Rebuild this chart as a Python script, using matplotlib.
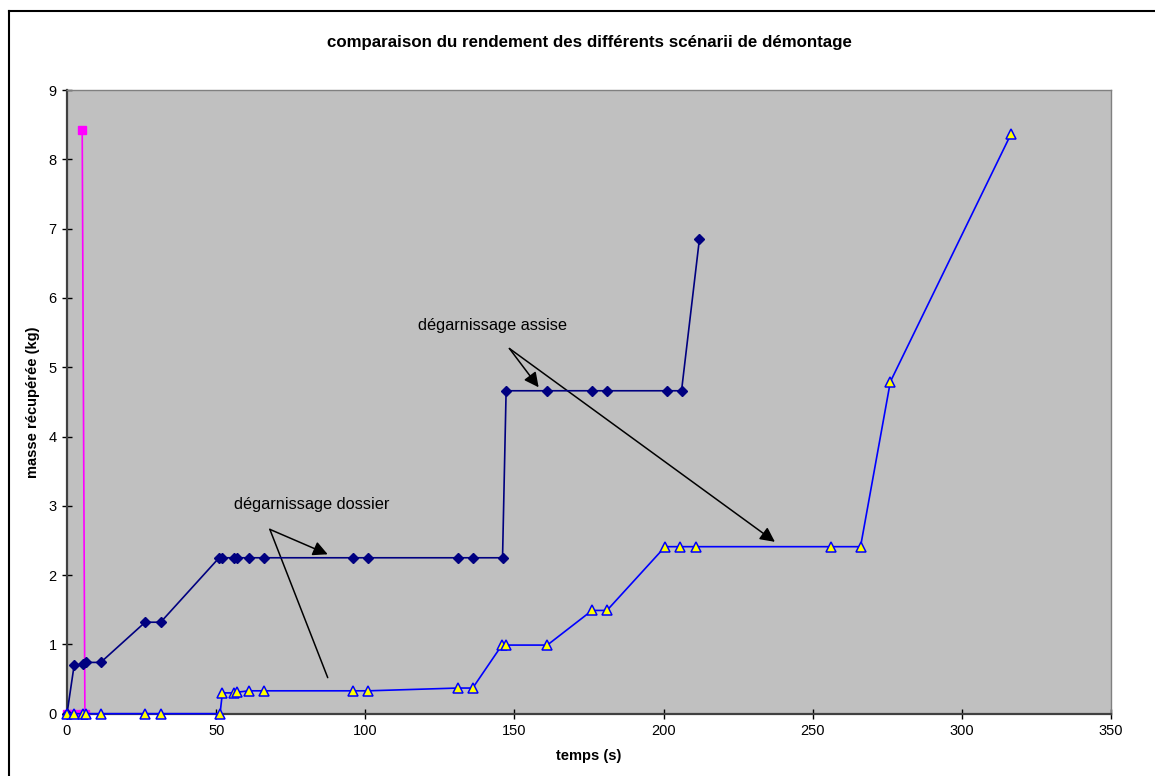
import matplotlib
matplotlib.use('Agg')
import matplotlib.pyplot as plt
from matplotlib.lines import Line2D

plt.rcParams['font.family'] = ['Liberation Sans', 'DejaVu Sans']

# scenario 1 : vertical magenta
t_mag = [0, 2, 5.1, 6, 5.1]
m_mag = [0, 0, 0, 0, 8.43]

# degarnissage dossier (dark blue diamonds)
t_dos = [0, 2.4, 5.3, 6.3, 11.3, 26.2, 31.4, 51, 52, 56, 57, 61, 66, 96, 101,
         131, 136, 146, 147.2, 161, 176, 181, 201, 206, 212]
m_dos = [0, 0.70, 0.71, 0.74, 0.74, 1.32, 1.32, 2.25, 2.25, 2.25, 2.25, 2.25, 2.25, 2.25, 2.25,
         2.25, 2.25, 2.25, 4.66, 4.66, 4.66, 4.66, 4.66, 4.66, 6.85]

# degarnissage assise (blue triangles)
t_ass = [0, 2.4, 5.3, 6.3, 11.3, 26.2, 31.4, 51.3, 52.1, 56, 57, 61, 66, 96, 101,
         131, 136, 145.8, 147.2, 161, 176, 181, 200.5, 205.5, 211, 256, 266, 276, 316.5]
m_ass = [0, 0, 0, 0, 0, 0, 0, 0, 0.30, 0.30, 0.31, 0.33, 0.33, 0.33, 0.33,
         0.37, 0.37, 0.99, 0.99, 0.99, 1.49, 1.49, 2.41, 2.41, 2.41, 2.41, 2.41, 4.79, 8.37]

fig = plt.figure(figsize=(11.55, 7.76), dpi=100)
ax = fig.add_axes([0.058, 0.0803, 0.904, 0.8037])
ax.set_facecolor('#C0C0C0')

ax.plot(t_mag, m_mag, color='#FF00FF', lw=1.2, marker='s', ms=5.8,
        mfc='#FF00FF', mec='#FF00FF', zorder=3, clip_on=False)
ax.plot(t_dos, m_dos, color='#000080', lw=1.2, marker='D', ms=4.8,
        mfc='#000080', mec='#000080', zorder=4, clip_on=False)
ax.plot(t_ass, m_ass, color='#0000FF', lw=1.2, marker='^', ms=6.5,
        mfc='#FFFF00', mec='#0000FF', mew=1.1, zorder=5, clip_on=False)

ax.set_xlim(0, 350)
ax.set_ylim(0, 9)
ax.set_xticks(range(0, 351, 50))
ax.set_yticks(range(0, 10))
ax.tick_params(direction='inout', length=7, width=1, labelsize=10.5, pad=4, colors='black')
for s in ['left', 'bottom']:
    ax.spines[s].set_color('#404040')
    ax.spines[s].set_linewidth(1.6)
for s in ['right', 'top']:
    ax.spines[s].set_color('#808080')
    ax.spines[s].set_linewidth(1.0)

ax.set_title('comparaison du rendement des différents scénarii de démontage',
             fontsize=12.2, fontweight='bold', pad=31)
ax.set_xlabel('temps (s)', fontsize=10.5, fontweight='bold', labelpad=8)
ax.set_ylabel('masse récupérée (kg)', fontsize=10.5, fontweight='bold', labelpad=6)

arrow = dict(arrowstyle='-|>', color='black', lw=1.1, mutation_scale=22, shrinkA=0, shrinkB=0)
line = dict(arrowstyle='-', color='black', lw=1.1, shrinkA=0, shrinkB=0)

ax.text(117.5, 5.6, 'dégarnissage assise', fontsize=11.8, va='center', ha='left')
ax.annotate('', xy=(158.1, 4.71), xytext=(148.3, 5.27), arrowprops=arrow)
ax.annotate('', xy=(237.3, 2.48), xytext=(148.3, 5.27), arrowprops=arrow)

ax.text(56, 3.02, 'dégarnissage dossier', fontsize=11.8, va='center', ha='left')
ax.annotate('', xy=(87.4, 2.30), xytext=(68.0, 2.66), arrowprops=arrow)
ax.annotate('', xy=(87.4, 0.52), xytext=(68.0, 2.66), arrowprops=line)

# outer chart border (cut at right and bottom)
fig.add_artist(Line2D([9 / 1155, 9 / 1155], [1 - 11 / 776, 0], color='black', lw=1.5,
                      transform=fig.transFigure))
fig.add_artist(Line2D([9 / 1155, 1], [1 - 11 / 776, 1 - 11 / 776], color='black', lw=1.5,
                      transform=fig.transFigure))

fig.savefig('out.png', dpi=100)
